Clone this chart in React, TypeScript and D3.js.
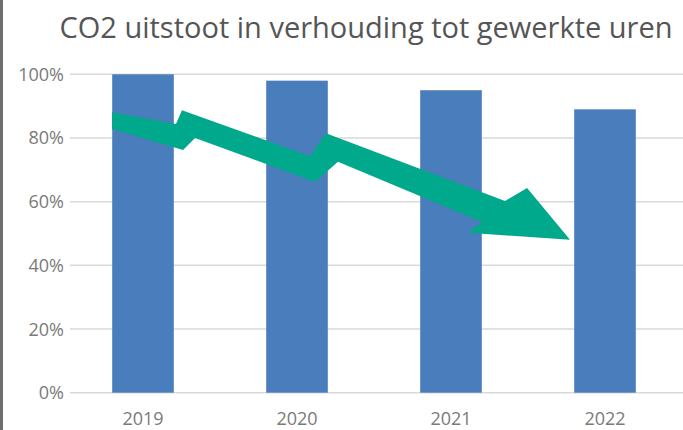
import React from "react";
import * as d3 from "d3";

const title = "CO2 uitstoot in verhouding tot gewerkte uren";
const categories = ["2019", "2020", "2021", "2022"];
const values = [100, 98, 95, 89];
const yTicks = [0, 20, 40, 60, 80, 100];

// Decorative zig-zag arrow, in data units: u = category position (0..4), v = percent
const arrowU = [0.299, 0.714, 0.753, 1.584, 1.688, 2.851, 2.994, 3.273, 2.610, 2.701, 1.766, 1.617, 0.838, 0.760, 0.299];
const arrowV = [88.1, 84.4, 88.7, 74.3, 81.5, 60.2, 64.3, 48.0, 50.2, 53.6, 72.5, 66.2, 80.0, 76.2, 82.8];

const W = 683;
const H = 430;

export default function App() {
  const x = d3.scaleBand<string>().domain(categories).range([66, 682]).paddingInner(0.6).paddingOuter(0.3);
  const y = d3.scaleLinear().domain([0, 100]).range([392.7, 74.3]);
  const u = d3.scaleLinear().domain([0, categories.length]).range([66, 682]);

  const arrowPath =
    d3.line<number>()
      .x((_, i) => u(arrowU[i]))
      .y((_, i) => y(arrowV[i]))(arrowU.map((_, i) => i)) + "Z";

  const fmt = (v: number) => `${v}%`;

  return (
    <svg
      width={W}
      height={H}
      style={{ position: "fixed", left: 0, top: 0, background: "#fff" }}
      fontFamily="'Open Sans', sans-serif"
    >
      <rect x={0} y={0} width={W} height={H} fill="#fff" />
      <line x1={1.5} x2={1.5} y1={0} y2={H} stroke="#6e6e6e" strokeWidth={3} />
      <text x={366} y={38} textAnchor="middle" fontSize={29} fill="#555555">
        {title}
      </text>
      {yTicks.map((t) => (
        <g key={t}>
          <line x1={70} x2={683} y1={y(t)} y2={y(t)} stroke="#d9d9d9" strokeWidth={1.5} />
          <text x={64} y={y(t)} dy="0.36em" textAnchor="end" fontSize={18} fill="#7a7a7a">
            {fmt(t)}
          </text>
        </g>
      ))}
      {categories.map((c, i) => (
        <rect
          key={c}
          x={x(c)}
          y={y(values[i])}
          width={x.bandwidth()}
          height={y(0) - y(values[i])}
          fill="#4a7dbb"
        />
      ))}
      {categories.map((c) => (
        <text key={c} x={(x(c) as number) + x.bandwidth() / 2} y={425} textAnchor="middle" fontSize={18} fill="#7a7a7a">
          {c}
        </text>
      ))}
      <path d={arrowPath} fill="#00a98c" />
    </svg>
  );
}
